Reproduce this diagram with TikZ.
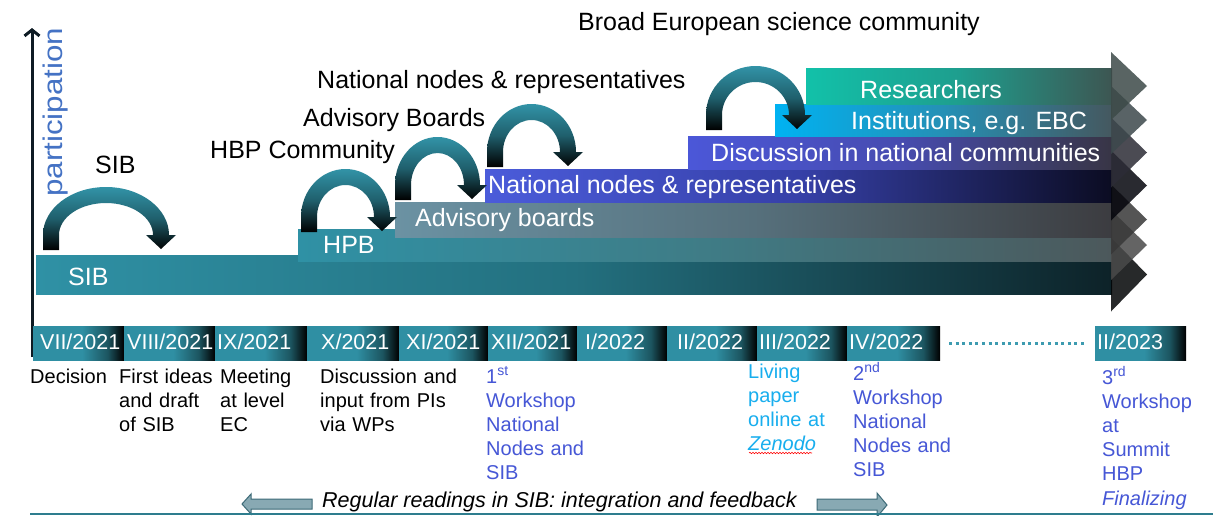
\documentclass[tikz,border=0pt]{standalone}
\usepackage{fontspec}
\setmainfont{Liberation Sans}
\usetikzlibrary{arrows.meta,decorations.pathmorphing}
\definecolor{boxteal}{HTML}{2F8FA3}
\definecolor{boxmid}{HTML}{1C5560}
\definecolor{archteal}{HTML}{3293A7}
\definecolor{archmid}{HTML}{1F5F6C}
\definecolor{axiscol}{HTML}{0E1B24}
\definecolor{partblue}{HTML}{4472C4}
\definecolor{wsblue}{HTML}{4657D6}
\definecolor{lpcyan}{HTML}{18AEEE}
\definecolor{dotteal}{HTML}{3D9BB0}
\definecolor{blockfill}{HTML}{88A9B3}
\definecolor{blockline}{HTML}{3E6B78}
\definecolor{baseline}{HTML}{2E7D8E}
% bars: left / middle / right / head
\definecolor{sibL}{HTML}{2F91A5}\definecolor{sibM}{HTML}{23707F}\definecolor{sibR}{HTML}{0D2228}\definecolor{sibH}{HTML}{020405}
\definecolor{hpbL}{HTML}{2F91A5}\definecolor{hpbM}{HTML}{3F7C86}\definecolor{hpbR}{HTML}{4C585B}\definecolor{hpbH}{HTML}{4A4A4A}
\definecolor{advL}{HTML}{6B92A3}\definecolor{advM}{HTML}{56707C}\definecolor{advR}{HTML}{3C3C40}\definecolor{advH}{HTML}{383838}
\definecolor{natL}{HTML}{4B5CDA}\definecolor{natM}{HTML}{3640A8}\definecolor{natR}{HTML}{0B0C22}\definecolor{natH}{HTML}{04050C}
\definecolor{disL}{HTML}{4B57D8}\definecolor{disM}{HTML}{474CB0}\definecolor{disR}{HTML}{383545}\definecolor{disH}{HTML}{2C2C36}
\definecolor{insL}{HTML}{00B2F2}\definecolor{insM}{HTML}{2590B5}\definecolor{insR}{HTML}{45585F}\definecolor{insH}{HTML}{3C484C}
\definecolor{resL}{HTML}{12C1A9}\definecolor{resM}{HTML}{1E9E8E}\definecolor{resR}{HTML}{3D5652}\definecolor{resH}{HTML}{3C4A48}
\pgfdeclarehorizontalshading{tlbox}{100bp}{color(0bp)=(boxteal); color(25bp)=(boxteal); color(52bp)=(boxteal); color(66bp)=(boxmid); color(75bp)=(black); color(100bp)=(black)}
\newcommand{\bararrow}[5]{% #1 xstart, #2 ytop, #3 ybot, #4 colour prefix, #5 head half height
  \shade[left color=#4L, right color=#4R, middle color=#4M] (#1,#2) rectangle (1112,#3);
  \pgfmathsetmacro\barcy{(#2+#3)/2}
  \fill[#4H, opacity=0.85] (1111,\barcy-#5) -- (1147,\barcy) -- (1111,\barcy+#5) -- cycle;
}
\newcommand{\archarrow}[5]{% #1 xL, #2 xR, #3 yc (head base), #4 top of centreline, #5 foot
  \pgfmathsetmacro\arcx{(#1+#2)/2}
  \pgfmathsetmacro\arca{(#2-#1)/2}
  \pgfmathsetmacro\arcb{#3-#4}
  \pgfmathsetmacro\arcao{\arca+8}\pgfmathsetmacro\arcbo{\arcb+8}
  \pgfmathsetmacro\arcai{\arca-8}\pgfmathsetmacro\arcbi{\arcb-8}
  \shade[top color=archteal, bottom color=black, middle color=archmid]
    (\arcx-\arcao,#5) -- (\arcx-\arcao,#3)
    .. controls (\arcx-\arcao,#3-0.552*\arcbo) and (\arcx-0.552*\arcao,#3-\arcbo) .. (\arcx,#3-\arcbo)
    .. controls (\arcx+0.552*\arcao,#3-\arcbo) and (\arcx+\arcao,#3-0.552*\arcbo) .. (\arcx+\arcao,#3)
    -- (\arcx+\arcao+7,#3) -- (#2,#3+14) -- (\arcx+\arcai-7,#3) -- (\arcx+\arcai,#3)
    .. controls (\arcx+\arcai,#3-0.552*\arcbi) and (\arcx+0.552*\arcai,#3-\arcbi) .. (\arcx,#3-\arcbi)
    .. controls (\arcx-0.552*\arcai,#3-\arcbi) and (\arcx-\arcai,#3-0.552*\arcbi) .. (\arcx-\arcai,#3)
    -- (\arcx-\arcai,#5) -- cycle;
}
\begin{document}
\begin{tikzpicture}[x=1pt,y=-1pt,
  toplab/.style={font=\fontsize{25}{30}\selectfont, text=black, inner sep=0pt, anchor=base west},
  barlab/.style={font=\fontsize{25}{30}\selectfont, text=white, inner sep=0pt, anchor=base west},
  tltext/.style={font=\fontsize{21.5}{26}\selectfont, text=white, inner sep=0pt, anchor=base west},
  note/.style={font=\fontsize{20}{24.2}\selectfont, inner sep=0pt, anchor=base west, text width=160pt, align=left},
  axisline/.style={draw=axiscol, line width=3pt, -{Straight Barb[length=6pt,width=15pt]}},
  dotline/.style={draw=dotteal, line width=3pt, dash pattern=on 3pt off 3.6pt},
  blockarr/.style={fill=blockfill, draw=blockline, line width=1pt},
  bottomline/.style={draw=baseline, line width=1.5pt}
]
\useasboundingbox[fill=white] (0,0) rectangle (1213,515);

% axis
\coordinate (ax0) at (32,357);
\coordinate (ax1) at (32,28);
\draw[axisline] (ax0) -- (ax1);
\node[font=\fontsize{27}{31}\selectfont, text=partblue, rotate=90, anchor=base west, inner sep=0pt] (part) at (62,197) {\scalebox{1.16}[1]{participation}};

% bars (bottom to top)
\bararrow{36}{255}{294}{sib}{37}
\bararrow{298}{229}{261}{hpb}{35}
\bararrow{395}{202}{237}{adv}{35}
\bararrow{485}{169}{202}{nat}{35}
\bararrow{688}{136}{169}{dis}{35}
\bararrow{775}{104}{136}{ins}{34}
\bararrow{806}{68}{104}{res}{34}

\node[barlab] (bSIB) at (68,285) {SIB};
\node[barlab] (bHPB) at (323,253) {HPB};
\node[barlab] (bADV) at (415,226) {Advisory boards};
\node[barlab] (bNAT) at (488,193) {National nodes \& representatives};
\node[barlab] (bDIS) at (711,161) {Discussion in national communities};
\node[barlab] (bINS) at (851,129) {Institutions, e.g. EBC};
\node[barlab] (bRES) at (860,98) {Researchers};

% arch arrows
\archarrow{51}{161}{235}{195}{250}
\archarrow{309}{382}{217}{177}{232}
\archarrow{403}{472}{185}{145}{200}
\archarrow{495}{568}{152}{112}{167}
\archarrow{714}{797}{115}{74}{130}

% top labels
\node[toplab] (lBEC) at (578,30) {Broad European science community};
\node[toplab] (lNAT) at (317,88) {National nodes \& representatives};
\node[toplab] (lADV) at (303,126) {Advisory Boards};
\node[toplab] (lHBP) at (210,158) {HBP Community};
\node[toplab] (lSIB) at (95,173) {SIB};

% timeline boxes
\shade[shading=tlbox] (33,326) rectangle (124,360);
\shade[shading=tlbox] (124,326) rectangle (215,360);
\shade[shading=tlbox] (215,326) rectangle (307,360);
\shade[shading=tlbox] (307,326) rectangle (399,360);
\shade[shading=tlbox] (399,326) rectangle (488,360);
\shade[shading=tlbox] (488,326) rectangle (577,360);
\shade[shading=tlbox] (577,326) rectangle (667,360);
\shade[shading=tlbox] (667,326) rectangle (757,360);
\shade[shading=tlbox] (757,326) rectangle (847,360);
\shade[shading=tlbox] (847,326) rectangle (940,360);
\shade[shading=tlbox] (1095,326) rectangle (1186,360);
\node[tltext] (m1) at (40,349) {VII/2021};
\node[tltext] (m2) at (127,349) {VIII/2021};
\node[tltext] (m3) at (217,349) {IX/2021};
\node[tltext] (m4) at (321,349) {X/2021};
\node[tltext] (m5) at (406,349) {XI/2021};
\node[tltext] (m6) at (491,349) {XII/2021};
\node[tltext] (m7) at (585,349) {I/2022};
\node[tltext] (m8) at (677,349) {II/2022};
\node[tltext] (m9) at (759,349) {III/2022};
\node[tltext] (m10) at (849,349) {IV/2022};
\node[tltext] (m11) at (1097,349) {II/2023};
\coordinate (d1) at (949,343);
\coordinate (d2) at (1084,343);
\draw[dotline] (d1) -- (d2);

% notes below
\node[note] (n1) at (30,383) {Decision};
\node[note] (n2) at (119,383) {First ideas\\and draft\\of SIB};
\node[note] (n3) at (220,383) {Meeting\\at level\\EC};
\node[note] (n4) at (320,383) {Discussion and\\input from PIs\\via WPs};
\node[note, text=wsblue] (n5) at (486,383) {1\textsuperscript{st}\\Workshop\\National\\Nodes and\\SIB};
\node[note, text=lpcyan] (n6) at (748,378) {Living\\paper\\online at\\\textit{Zenodo}};
\node[note, text=wsblue] (n7) at (853,380) {2\textsuperscript{nd}\\Workshop\\National\\Nodes and\\SIB};
\node[note, text=wsblue] (n8) at (1102,384) {3\textsuperscript{rd}\\Workshop\\at\\Summit\\HBP\\\textit{Finalizing}};
\coordinate (z1) at (749,453);
\coordinate (z2) at (812,453);
\draw[red, line width=0.6pt, decorate, decoration={snake, amplitude=0.7pt, segment length=3pt}] (z1) -- (z2);

% bottom
\fill[blockarr] (312,499) -- (251,499) -- (251,494) -- (242,504) -- (251,514) -- (251,509) -- (312,509) -- cycle;
\fill[blockarr] (817,499) -- (877,499) -- (877,493) -- (887,505) -- (877,517) -- (877,510) -- (817,510) -- cycle;
\node[font=\fontsize{21.5}{26}\selectfont\itshape, inner sep=0pt, anchor=base west] (reg) at (322,507) {Regular readings in SIB: integration and feedback};
\coordinate (bl0) at (30,514);
\coordinate (bl1) at (1213,514);
\draw[bottomline] (bl0) -- (bl1);
\end{tikzpicture}
\end{document}
